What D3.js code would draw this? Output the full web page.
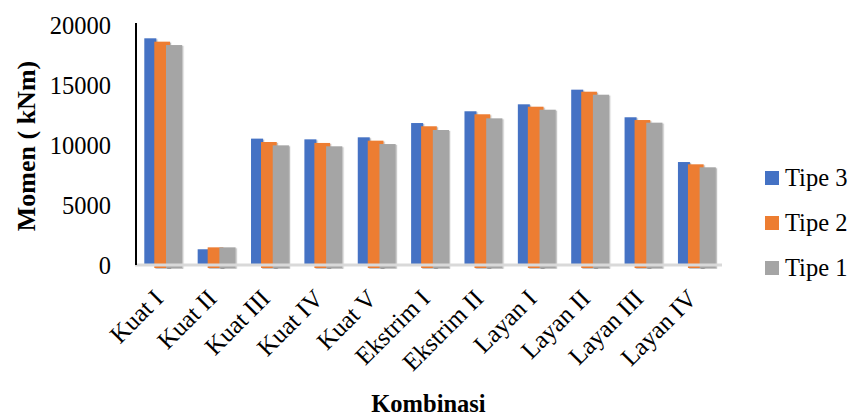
<!DOCTYPE html>
<html>
<head>
<meta charset="utf-8">
<script src="https://cdn.jsdelivr.net/npm/d3@7"></script>
<style>
  html, body { margin: 0; padding: 0; background: #fff; }
  svg { display: block; font-family: "Liberation Serif", "Times New Roman", serif; }
</style>
</head>
<body>
<svg id="chart" width="852" height="415"></svg>
<script>
// Kombinasi pembebanan (load combinations)
const categories = ["Kuat I", "Kuat II", "Kuat III", "Kuat IV", "Kuat V",
  "Ekstrim I", "Ekstrim II", "Layan I", "Layan II", "Layan III", "Layan IV"];

// Momen (kNm) per tipe
const tipe3 = [18890, 1310, 10530, 10470, 10640, 11830, 12810, 13390, 14610, 12310, 8580];
const tipe2 = [18610, 1470, 10250, 10170, 10360, 11560, 12560, 13190, 14440, 12080, 8390];
const tipe1 = [18330, 1470, 9970, 9890, 10080, 11250, 12220, 12940, 14190, 11860, 8140];

const seriesNames = ["Tipe 3", "Tipe 2", "Tipe 1"];
const seriesValues = [tipe3, tipe2, tipe1];
const yTicks = [0, 5000, 10000, 15000, 20000];

const colors = ["#4472C4", "#ED7D31", "#A5A5A5"];

const svg = d3.select("#chart");

// shadow for the bars
const defs = svg.append("defs");
defs.append("filter").attr("id", "shadow")
  .attr("x", "-20%").attr("y", "-5%").attr("width", "150%").attr("height", "115%")
  .append("feDropShadow")
  .attr("dx", 1.2).attr("dy", 0.8).attr("stdDeviation", 0.7)
  .attr("flood-color", "#000").attr("flood-opacity", 0.28);

const plot = { left: 135, right: 722, top: 25, bottom: 265 };

const x = d3.scaleBand().domain(categories).range([plot.left, plot.right]).padding(0);
const y = d3.scaleLinear().domain([0, 20000]).range([plot.bottom, plot.top]);

// bar geometry inside each category band
const bars = [
  { offset: 9.3, width: 12 },
  { offset: 19.3, width: 15.7 },
  { offset: 31, width: 16.2 }
];
const overhang = [0, 3, 3];

const barLayer = svg.append("g");
seriesValues.forEach((vals, s) => {
  barLayer.append("g")
    .attr("fill", colors[s])
    .attr("filter", "url(#shadow)")
    .selectAll("rect")
    .data(vals.map((v, i) => ({ cat: categories[i], v })))
    .join("rect")
    .attr("x", d => x(d.cat) + bars[s].offset)
    .attr("width", bars[s].width)
    .attr("y", d => y(d.v))
    .attr("height", d => y(0) - y(d.v) + overhang[s]);
});

// category axis line
svg.append("line")
  .attr("x1", plot.left).attr("x2", plot.right)
  .attr("y1", y(0)).attr("y2", y(0))
  .attr("stroke", "#D9D9D9").attr("stroke-width", 3);

// value axis line
svg.append("line")
  .attr("x1", plot.left + 1).attr("x2", plot.left + 1)
  .attr("y1", plot.top - 2).attr("y2", y(0))
  .attr("stroke", "#000").attr("stroke-width", 2);

// value axis tick labels
const yAxis = d3.axisLeft(y).tickValues(yTicks).tickSize(0).tickPadding(0).tickFormat(d3.format("d"));
const yg = svg.append("g").attr("transform", `translate(111,0)`).call(yAxis);
yg.select(".domain").remove();
yg.selectAll("text")
  .attr("font-family", "Liberation Serif, Times New Roman, serif")
  .attr("font-size", 24.5)
  .attr("fill", "#000")
  .attr("dy", "0.34em");

// category labels, rotated
const xg = svg.append("g");
xg.selectAll("text")
  .data(categories)
  .join("text")
  .attr("transform", d => `translate(${x(d) + x.bandwidth() / 2 + 3},300) rotate(-45)`)
  .attr("text-anchor", "end")
  .attr("font-size", 25)
  .attr("fill", "#000")
  .text(d => d);

// axis titles
svg.append("text")
  .attr("transform", `translate(35,146) rotate(-90)`)
  .attr("text-anchor", "middle")
  .attr("font-weight", "bold")
  .attr("font-size", 26)
  .text("Momen ( kNm)");

svg.append("text")
  .attr("x", (plot.left + plot.right) / 2).attr("y", 411.5)
  .attr("text-anchor", "middle")
  .attr("font-weight", "bold")
  .attr("font-size", 24.5)
  .text("Kombinasi");

// legend
const legend = svg.append("g");
const legendY = [178, 223, 268];
seriesNames.forEach((name, i) => {
  const g = legend.append("g").attr("transform", `translate(765,${legendY[i]})`);
  g.append("rect").attr("x", 0).attr("y", -7).attr("width", 14).attr("height", 14).attr("fill", colors[i]);
  g.append("text").attr("x", 20).attr("dy", "0.34em")
    .attr("font-size", 24.5).attr("fill", "#000").text(name);
});
</script>
</body>
</html>
